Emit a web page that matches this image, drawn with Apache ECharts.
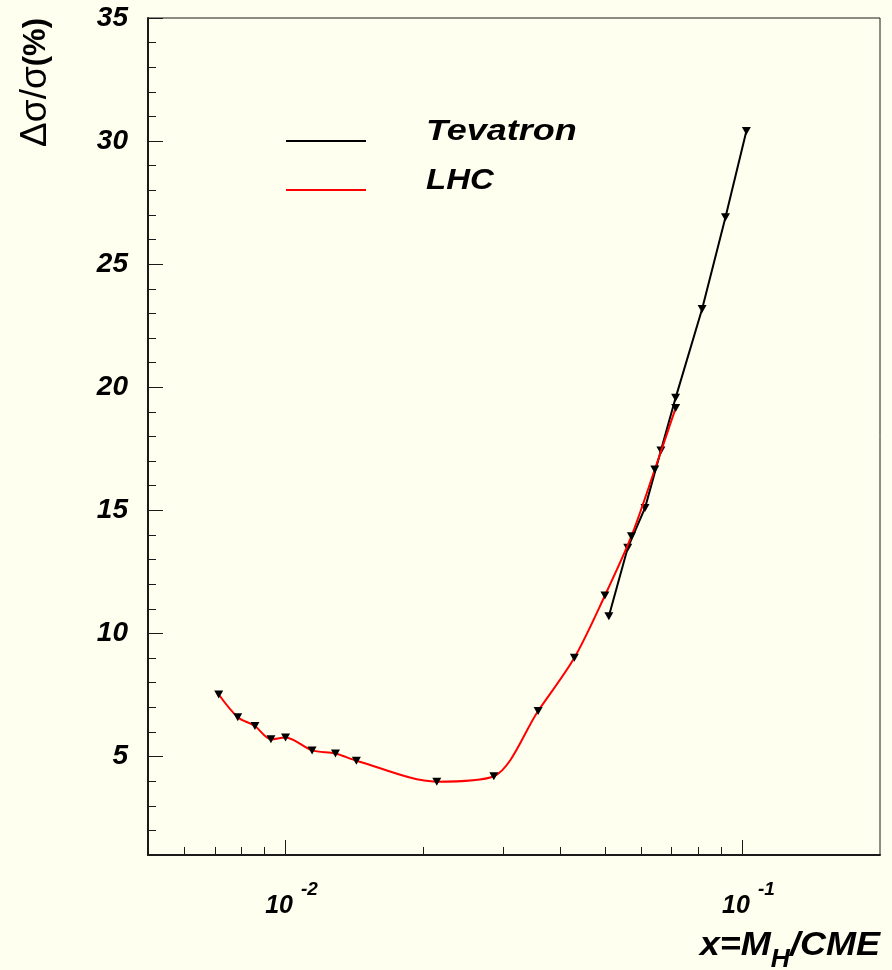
<!DOCTYPE html>
<html>
<head>
<meta charset="utf-8">
<script src="https://cdn.jsdelivr.net/npm/echarts@6/dist/echarts.min.js"></script>
<style>
  html, body { margin: 0; padding: 0; background: #ffffef; }
  #chart { width: 892px; height: 970px; }
</style>
</head>
<body>
<div id="chart"></div>
<script>
// Relative uncertainty of the cross section versus x = M_H / CME
const lhcX = [0.00714, 0.00786, 0.00857, 0.00929, 0.0100, 0.01143, 0.01286, 0.01429,
              0.02143, 0.02857, 0.03571, 0.04286, 0.0500, 0.05714, 0.06429, 0.07143];
const lhcY = [7.52, 6.60, 6.24, 5.70, 5.77, 5.25, 5.12, 4.83,
              3.98, 4.20, 6.85, 9.01, 11.54, 13.95, 16.66, 19.16];
const tevX = [0.0510, 0.0561, 0.0612, 0.0663, 0.0714, 0.0816, 0.0918, 0.1020];
const tevY = [10.70, 13.48, 15.10, 17.43, 19.57, 23.18, 26.91, 30.41];

const seriesNames = ['Tevatron', 'LHC'];

// Axis ticks
const yMajorTicks = [5, 10, 15, 20, 25, 30, 35];
const yMinorTicks = [2, 3, 4, 6, 7, 8, 9, 11, 12, 13, 14, 16, 17, 18, 19, 21, 22, 23, 24,
                     26, 27, 28, 29, 31, 32, 33, 34];
const xMajorTicks = [0.01, 0.1];
const xMinorTicks = [0.006, 0.007, 0.008, 0.009, 0.02, 0.03, 0.04, 0.05, 0.06, 0.07, 0.08, 0.09];

const FONT = "'Liberation Sans', Arial, Helvetica, sans-serif";
const INK = '#1a1a1a';

const toPairs = (xs, ys) => xs.map((x, i) => [x, ys[i]]);

const chart = echarts.init(document.getElementById('chart'), null, { renderer: 'canvas' });

const xBase = {
  type: 'log', logBase: 10, min: 0.005, max: 0.2, position: 'bottom',
  splitLine: { show: false }, minorTick: { show: false }
};
const yBase = {
  type: 'value', min: 1, max: 35, position: 'left',
  splitLine: { show: false }
};

const option = {
  backgroundColor: '#ffffef',
  animation: false,
  grid: {
    left: 148, top: 18, right: 12, bottom: 115,
    show: true, borderColor: INK, borderWidth: 1, backgroundColor: 'transparent'
  },
  xAxis: [
    Object.assign({}, xBase, {
      axisLine: { show: true, lineStyle: { color: INK, width: 2 } },
      axisTick: { show: true, inside: true, length: 15, customValues: xMajorTicks,
                  lineStyle: { color: INK, width: 1 } },
      axisLabel: {
        show: true, customValues: xMajorTicks, margin: 25, padding: [0, 0, 0, 12],
        formatter: v => '{b|10}{s|' + Math.round(Math.log10(v)) + '}',
        rich: {
          b: { fontFamily: FONT, fontSize: 25, fontWeight: 'bold', fontStyle: 'italic', color: '#000' },
          s: { fontFamily: FONT, fontSize: 19, fontWeight: 'bold', fontStyle: 'italic', color: '#000',
               padding: [0, 0, 34, 8] }
        }
      }
    }),
    Object.assign({}, xBase, {
      axisLine: { show: false },
      axisTick: { show: true, inside: true, length: 8, customValues: xMinorTicks,
                  lineStyle: { color: INK, width: 1 } },
      axisLabel: { show: false }
    })
  ],
  yAxis: [
    Object.assign({}, yBase, {
      axisLine: { show: true, lineStyle: { color: INK, width: 2 } },
      axisTick: { show: true, inside: true, length: 15, customValues: yMajorTicks,
                  lineStyle: { color: INK, width: 1 } },
      axisLabel: {
        show: true, customValues: yMajorTicks, margin: 20,
        fontFamily: FONT, fontSize: 28, fontWeight: 'bold', fontStyle: 'italic', color: '#000'
      }
    }),
    Object.assign({}, yBase, {
      axisLine: { show: false },
      axisTick: { show: true, inside: true, length: 8, customValues: yMinorTicks,
                  lineStyle: { color: INK, width: 1 } },
      axisLabel: { show: false }
    })
  ],
  series: [
    {
      name: seriesNames[0], type: 'line', xAxisIndex: 0, yAxisIndex: 0,
      data: toPairs(tevX, tevY),
      lineStyle: { color: '#000', width: 2 },
      itemStyle: { color: '#000' },
      symbol: 'triangle', symbolRotate: 180, symbolSize: [9, 8],
      z: 2
    },
    {
      name: seriesNames[1], type: 'line', xAxisIndex: 0, yAxisIndex: 0,
      data: toPairs(lhcX, lhcY),
      smooth: 0.3,
      lineStyle: { color: '#ff0000', width: 2 },
      itemStyle: { color: '#000' },
      symbol: 'triangle', symbolRotate: 180, symbolSize: [9, 8],
      z: 3
    }
  ],
  graphic: [
    // legend
    { type: 'line', shape: { x1: 286, y1: 141, x2: 366, y2: 141 },
      style: { stroke: '#000', lineWidth: 2 } },
    { type: 'text', x: 426, y: 131.5, scaleX: 1.2,
      style: { text: seriesNames[0], font: "italic bold 30px " + FONT, fill: '#000',
               align: 'left', verticalAlign: 'middle' } },
    { type: 'line', shape: { x1: 286, y1: 190, x2: 366, y2: 190 },
      style: { stroke: '#ff0000', lineWidth: 2 } },
    { type: 'text', x: 426, y: 181, scaleX: 1.1,
      style: { text: seriesNames[1], font: "italic bold 30px " + FONT, fill: '#000',
               align: 'left', verticalAlign: 'middle' } },
    // axis titles
    { type: 'text', x: 880, y: 946, scaleX: 1.06,
      style: {
        text: '{m|x=M}{h|H}{m|/CME}', align: 'right', verticalAlign: 'middle',
        rich: {
          m: { fontFamily: FONT, fontSize: 34, fontWeight: 'bold', fontStyle: 'italic', fill: '#000' },
          h: { fontFamily: FONT, fontSize: 25, fontWeight: 'bold', fontStyle: 'italic', fill: '#000',
               padding: [28, 0, 0, 0] }
        }
      } },
    { type: 'text', x: 36, y: 18, rotation: Math.PI / 2,
      style: {
        text: '{g|Δσ/σ}{p|(%)}', align: 'right', verticalAlign: 'middle',
        rich: {
          g: { fontFamily: FONT, fontSize: 37, fontWeight: 'normal', fill: '#000' },
          p: { fontFamily: FONT, fontSize: 31, fontWeight: 'bold', fill: '#000' }
        }
      } }
  ]
};

chart.setOption(option);
</script>
</body>
</html>
